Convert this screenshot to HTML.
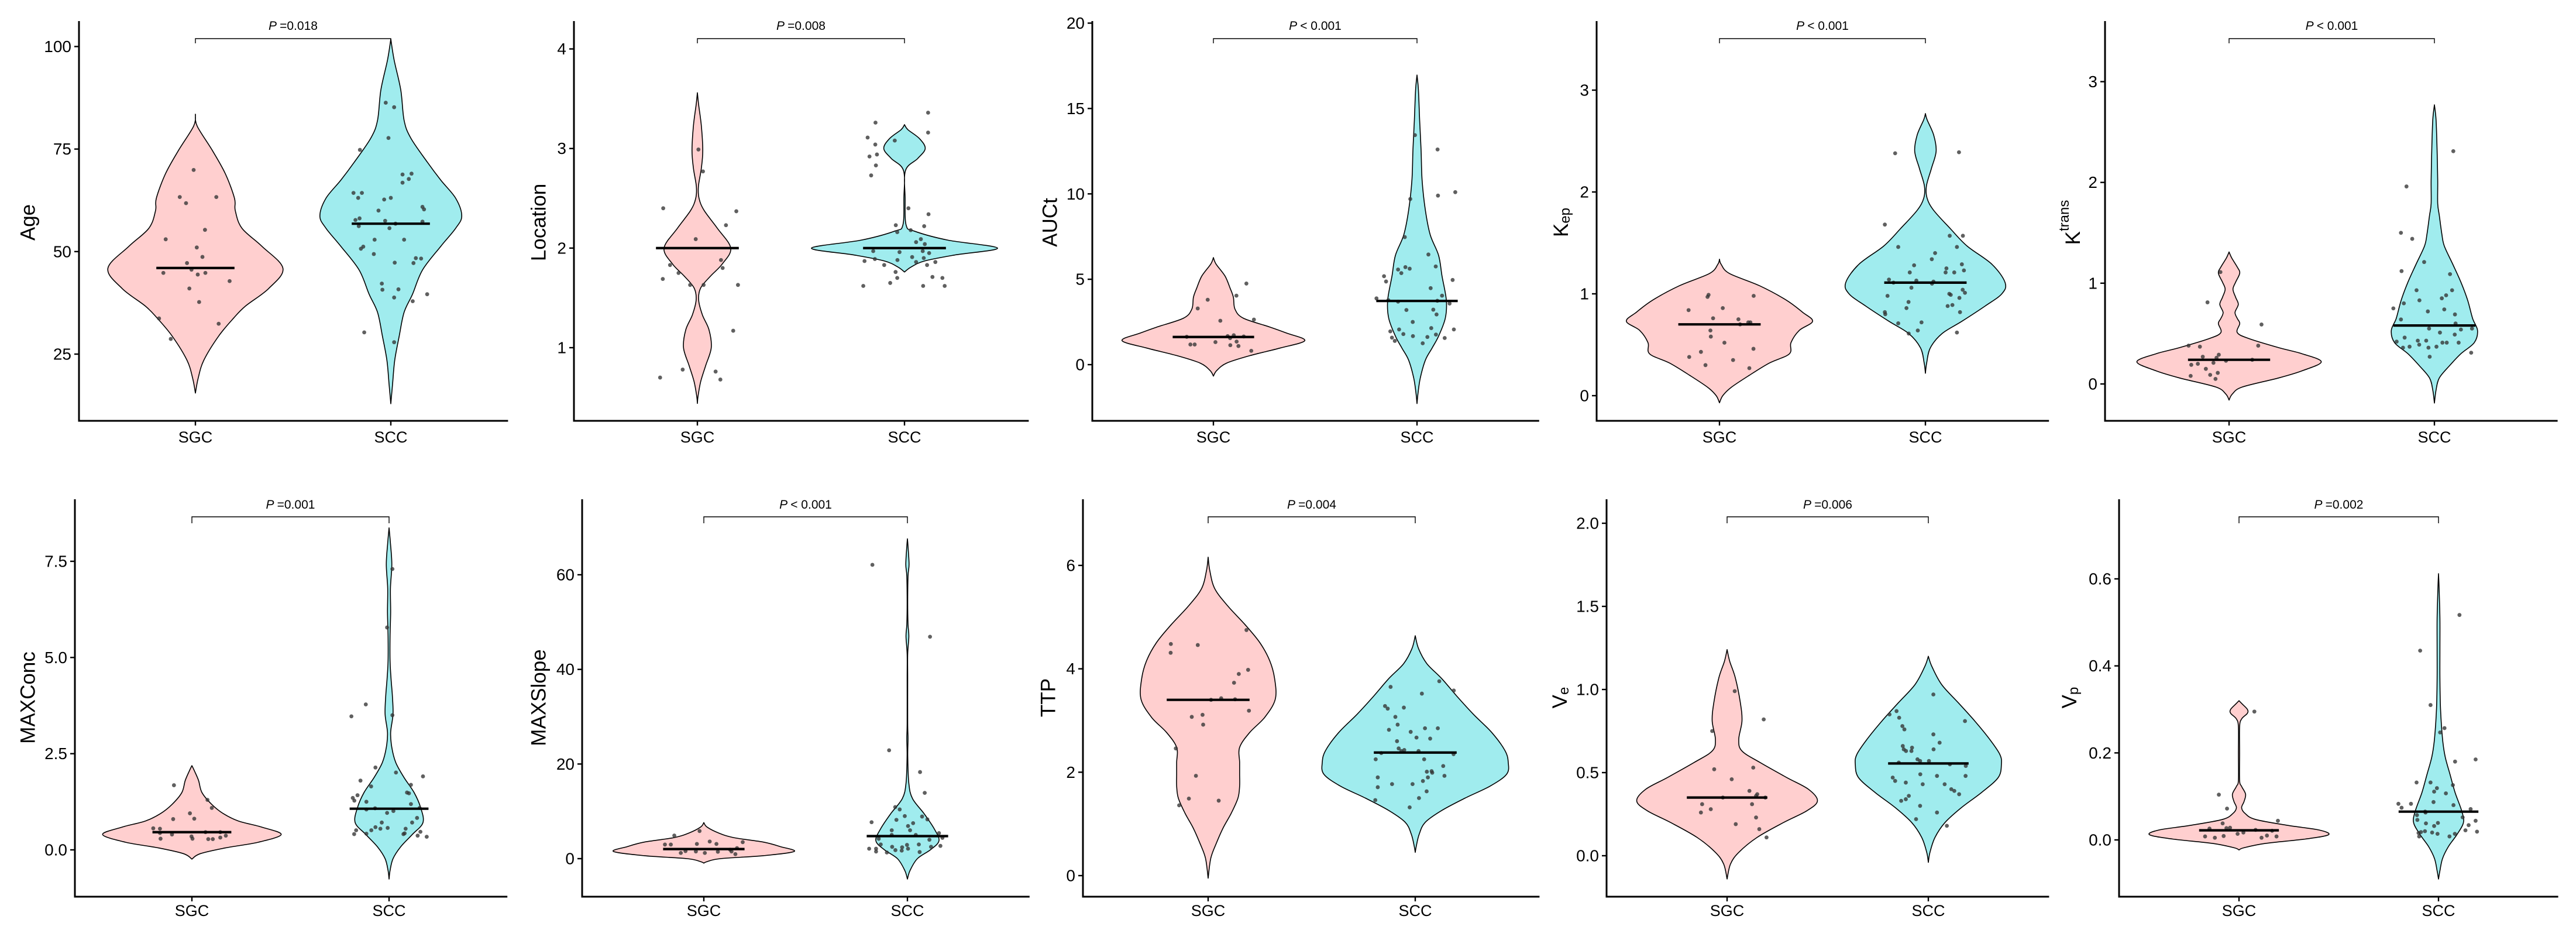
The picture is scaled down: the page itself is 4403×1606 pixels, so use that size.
<!DOCTYPE html>
<html><head><meta charset="utf-8">
<style>
html,body{margin:0;padding:0;background:#fff;}
svg{display:block;font-family:"Liberation Sans",Arial,sans-serif;}
</style></head>
<body>
<svg id="chart" xmlns="http://www.w3.org/2000/svg" width="4403" height="1606" viewBox="0 0 4403 1606"></svg>
<script>
// ---------- shared categories ----------
const categories = ["SGC", "SCC"];

// ---------- Age ----------
const ageTicks = [25, 50, 75, 100];
const ageTickLabels = ["25", "50", "75", "100"];
const agePText = "=0.018";
const ageMedians = [46.0, 56.8];
const ageSgcProfY = [83.5,80.6,74.8,69,63,60,55.7,51.3,45.9,41,36.7,33.8,29.4,23.5,19.1,15.5];
const ageSgcProfW = [0,.009,.085,.153,.2,.204,.238,.34,.448,.375,.256,.196,.119,.043,.014,0];
const ageSccProfY = [101.8,96.7,89.4,82,77.7,71.8,67.4,63,58.7,55.7,51.3,45.5,39.6,35.2,29.4,23.5,17.7,12.9];
const ageSccProfW = [0,.017,.051,.068,.102,.187,.256,.332,.363,.332,.256,.162,.111,.068,.043,.02,.009,0];
const ageSgcVals = [69.9,63.3,61.8,63.3,55.3,53.0,51.0,48.7,47.2,45.6,44.4,44.8,44.8,42.8,41.0,37.7,33.7,32.4,28.7];
const ageSgcJit = [-.009,-.08,-.048,.107,.049,-.152,.007,.036,-.043,-.02,.012,.051,-.164,.175,-.031,.019,-.186,.119,-.126];
const ageSccVals = [86.3,85.2,77.7,74.8,68.8,69.0,67.7,66.8,64.3,64.3,63.1,62.7,63.1,60.0,60.9,60.3,58.1,57.7,56.2,57.5,56.8,57.3,55.7,52.9,52.9,51.2,50.7,49.4,48.4,48.3,47.2,47.3,42.2,40.7,40.8,38.8,39.6,37.9,30.3,27.9];
const ageSccJit = [-.026,.017,-.012,-.158,.06,.106,.092,.06,-.191,-.148,-.167,-.034,0,-.063,.162,.17,-.16,-.181,-.164,-.029,.024,.162,-.007,-.083,.068,-.141,-.153,-.087,.128,.155,.116,.02,-.046,-.043,.039,.017,.186,.112,-.136,.017];

// ---------- Location ----------
const locTicks = [1, 2, 3, 4];
const locTickLabels = ["1", "2", "3", "4"];
const locPText = "=0.008";
const locMedians = [2.0, 2.0];
const locSgcProfY = [3.56,3.44,3.23,2.98,2.80,2.62,2.5,2.38,2.2,2.0,1.84,1.72,1.6,1.48,1.33,1.18,1.0,0.82,0.66,0.51,0.44];
const locSgcProfW = [0,.006,.019,.026,.019,.005,.008,.032,.096,.161,.12,.064,.016,.006,.024,.056,.067,.04,.016,.003,0];
const locSccProfY = [3.24,3.19,3.1,3.0,2.9,2.78,2.5,2.23,2.17,2.08,2.0,1.93,1.87,1.81,1.76];
const locSccProfW = [0,.016,.072,.1,.064,.005,.003,.008,.048,.209,.449,.241,.096,.032,0];
const locSgcVals = [2.99,2.77,2.40,2.37,2.23,2.09,1.88,1.83,1.80,1.75,1.69,1.63,1.63,1.63,1.17,0.78,0.76,0.70,0.68];
const locSgcJit = [.005,.027,-.165,.188,.138,-.008,.114,-.132,.122,-.091,-.167,-.035,.03,.196,.173,-.071,.088,-.18,.111];
const locSccVals = [3.36,3.26,3.16,3.11,3.08,3.04,2.94,2.92,2.83,2.73,2.40,2.34,2.23,2.22,2.18,2.16,2.09,2.06,1.97,1.97,1.96,1.95,2.04,1.87,1.89,1.88,1.91,1.90,1.86,1.86,1.83,1.83,1.76,1.71,1.70,1.70,1.65,1.62,1.62,1.62];
const locSccJit = [.114,-.14,.114,-.178,-.047,-.141,-.133,-.169,-.138,-.161,.019,.116,-.042,.095,.03,-.035,.079,.056,-.151,.088,-.024,.119,.098,-.193,-.143,-.034,.037,.093,.149,.056,-.098,.109,-.043,.135,.183,-.035,-.069,-.199,.09,.194];

// ---------- AUCt ----------
const auctTicks = [0, 5, 10, 15, 20];
const auctTickLabels = ["0", "5", "10", "15", "20"];
const auctPText = "< 0.001";
const auctMedians = [1.62, 3.73];
const auctSgcProfY = [6.27,5.89,5.19,4.48,3.95,3.25,2.72,2.2,1.85,1.41,0.97,0.53,0.09,-0.35,-0.67];
const auctSgcProfW = [0,.013,.057,.082,.098,.106,.147,.278,.359,.449,.327,.18,.065,.016,0];
const auctSccProfY = [16.96,16.08,14.3,12.56,10.8,9.05,7.6,6.4,5.18,3.78,2.72,1.67,0.97,0.26,-0.79,-1.67,-2.28];
const auctSccProfW = [0,.007,.013,.02,.025,.041,.065,.106,.123,.144,.139,.106,.074,.041,.016,.005,0];
const auctSgcVals = [4.75,4.04,3.80,3.29,2.64,2.57,1.72,1.67,1.65,1.63,1.55,1.32,1.35,1.18,1.18,1.14,1.09,0.81];
const auctSgcJit = [.162,.113,-.028,-.077,.199,.034,.1,.07,.149,-.131,.082,.01,.114,-.113,-.092,.083,.123,.186];
const auctSccVals = [13.44,12.6,10.1,9.9,9.7,7.47,6.45,5.75,5.71,5.62,5.57,5.36,5.18,4.96,4.87,4.48,4.04,3.88,3.78,3.74,3.58,3.69,3.2,3.22,2.94,2.5,2.06,2.06,2.14,1.95,1.79,1.76,1.67,1.62,1.56,1.58,1.39,1.25];
const auctSccJit = [-.01,.101,.188,.103,-.033,-.06,.056,.092,-.057,-.036,-.093,-.077,-.162,.175,-.152,.067,.123,-.199,-.141,.1,.16,-.093,-.052,.08,.096,-.021,.181,-.088,.07,-.131,-.067,.093,-.02,.051,.136,-.123,-.109,.028];

// ---------- Kep ----------
const kepTicks = [0, 1, 2, 3];
const kepTickLabels = ["0", "1", "2", "3"];
const kepPText = "< 0.001";
const kepMedians = [0.70, 1.11];
const kepSgcProfY = [1.34,1.29,1.2,1.08,0.94,0.82,0.73,0.64,0.52,0.41,0.32,0.2,0.08,0.0,-0.07];
const kepSgcProfW = [0,.008,.048,.194,.323,.403,.452,.387,.347,.339,.242,.145,.056,.016,0];
const kepSccProfY = [2.77,2.71,2.56,2.4,2.23,2.06,1.94,1.82,1.64,1.47,1.29,1.11,1.0,0.88,0.73,0.61,0.47,0.32,0.22];
const kepSccProfW = [0,.008,.04,.052,.029,.005,.008,.04,.121,.202,.323,.387,.371,.29,.177,.081,.024,.006,0];
const kepSgcVals = [0.99,0.97,0.98,0.84,0.86,0.76,0.75,0.72,0.72,0.70,0.64,0.58,0.52,0.46,0.43,0.38,0.35,0.30,0.27];
const kepSgcJit = [-.053,-.058,.166,-.15,.016,-.031,.092,.14,.15,.1,-.044,-.042,.024,.165,-.09,-.147,.066,-.068,.145];
const kepSccVals = [2.38,2.39,1.68,1.57,1.57,1.46,1.46,1.40,1.34,1.28,1.29,1.25,1.21,1.21,1.21,1.23,1.14,1.11,1.13,1.12,1.10,1.06,1.04,1.01,1.0,0.99,0.98,0.96,0.92,0.89,0.88,0.86,0.82,0.82,0.80,0.72,0.71,0.64,0.61,0.62];
const kepSccJit = [-.147,.163,-.197,.118,.182,-.132,.153,.047,.031,-.055,.177,.102,-.076,.098,.14,.187,-.177,-.155,-.044,.039,.032,-.068,.181,.192,.116,.123,-.184,.165,-.082,.131,.108,-.092,-.197,.168,-.195,-.019,-.132,-.037,-.081,.153];

// ---------- Ktrans ----------
const ktrTicks = [0, 1, 2, 3];
const ktrTickLabels = ["0", "1", "2", "3"];
const ktrPText = "< 0.001";
const ktrMedians = [0.24, 0.58];
const ktrSgcProfY = [1.31,1.25,1.16,1.1,1.01,0.94,0.86,0.79,0.71,0.65,0.6,0.51,0.45,0.36,0.3,0.22,0.13,0.06,-0.03,-0.1,-0.16];
const ktrSgcProfW = [0,.013,.04,.052,.032,.019,.032,.045,.029,.04,.052,.04,.097,.242,.355,.449,.355,.242,.065,.016,0];
const ktrSccProfY = [2.77,2.62,2.32,2.02,1.79,1.67,1.49,1.37,1.19,1.01,0.83,0.65,0.53,0.41,0.3,0.18,0.06,-0.06,-0.19];
const ktrSccProfW = [0,.008,.013,.016,.016,.024,.036,.048,.089,.129,.162,.186,.21,.194,.129,.073,.024,.008,0];
const ktrSgcVals = [1.11,0.81,0.59,0.38,0.38,0.37,0.27,0.29,0.26,0.23,0.24,0.21,0.19,0.20,0.15,0.11,0.08,0.09,0.05];
const ktrSgcJit = [-.042,-.105,.158,.142,-.197,-.142,-.128,-.05,-.061,-.015,.113,-.076,-.184,-.152,-.113,-.055,-.187,-.092,-.066];
const ktrSccVals = [2.31,1.96,1.50,1.44,1.21,1.12,1.09,0.93,0.93,0.83,0.88,0.85,0.80,0.75,0.74,0.72,0.69,0.64,0.60,0.55,0.55,0.54,0.51,0.49,0.46,0.42,0.43,0.43,0.41,0.41,0.41,0.39,0.36,0.37,0.36,0.37,0.31,0.27];
const ktrSccJit = [.092,-.136,-.163,-.108,-.05,-.16,.076,-.087,.086,-.073,.057,.036,-.149,-.2,.048,-.032,.1,-.163,.103,-.026,.183,.129,.027,.099,-.145,-.184,-.081,-.04,.06,.039,.118,-.074,-.153,-.121,-.029,.01,.179,-.023];

// ---------- MAXConc ----------
const mcTicks = [0, 2.5, 5, 7.5];
const mcTickLabels = ["0.0", "2.5", "5.0", "7.5"];
const mcPText = "=0.001";
const mcMedians = [0.46, 1.07];
const mcSgcProfY = [2.19,2.04,1.8,1.49,1.18,0.94,0.75,0.59,0.40,0.2,0.05,-0.1,-0.24];
const mcSgcProfW = [0,.014,.034,.051,.101,.16,.236,.355,.453,.338,.169,.042,0];
const mcSccProfY = [8.37,7.97,7.42,6.8,6.17,5.55,4.92,4.45,3.99,3.52,3.05,2.66,2.27,1.88,1.49,1.1,0.71,0.40,0.08,-0.23,-0.54,-0.76];
const mcSccProfW = [0,.007,.014,.007,.008,.005,.005,.01,.017,.02,.008,.014,.034,.076,.127,.16,.172,.118,.059,.02,.005,0];
const mcSgcVals = [1.68,1.30,1.09,0.95,0.80,0.81,0.56,0.55,0.44,0.46,0.46,0.40,0.35,0.29,0.37,0.32,0.29,0.28,0.28];
const mcSgcJit = [-.091,.079,.101,-.01,-.095,.012,-.196,-.162,-.162,.069,.144,-.101,-.002,.003,.172,.144,-.159,.083,.106];
const mcSccVals = [7.30,5.78,3.78,3.47,3.50,2.14,2.01,1.91,1.80,1.69,1.65,1.49,1.47,1.35,1.42,1.28,1.25,1.19,1.09,1.08,1.05,1.01,0.96,0.71,0.71,0.83,0.59,0.55,0.57,0.55,0.51,0.51,0.42,0.41,0.43,0.47,0.37,0.34,0.41];
const mcSccJit = [.017,-.01,-.118,-.191,.017,-.069,.035,.172,-.145,.111,-.091,.091,.101,-.184,-.16,-.176,-.115,.111,.155,-.071,-.115,.022,-.01,-.037,.117,.142,-.069,-.044,-.007,.084,-.09,-.167,-.115,-.177,.079,.159,.145,.191,.073];

// ---------- MAXSlope ----------
const msTicks = [0, 20, 40, 60];
const msTickLabels = ["0", "20", "40", "60"];
const msPText = "< 0.001";
const msMedians = [2.03, 4.76];
const msSgcProfY = [7.62,6.67,5.4,4.44,3.49,2.54,1.52,0.63,0,-0.63,-0.95];
const msSgcProfW = [0,.016,.074,.147,.294,.376,.444,.294,.082,.016,0];
const msSccProfY = [67.6,66.0,62.2,59.7,54,49.5,47,43.2,38.1,28.6,25.4,21.6,15.9,12.7,9.5,6.35,3.8,1.9,0,-2.5,-4.32];
const msSccProfW = [0,.003,.008,.003,.0013,.003,.007,.0013,.0013,.0013,.003,.0016,.007,.025,.082,.131,.155,.114,.049,.013,0];
const msSgcVals = [4.89,5.84,3.62,3.11,3.11,3.49,2.98,2.98,2.22,1.9,1.59,1.52,1.46,1.52,1.21,1.21,0.95];
const msSgcJit = [-.145,-.021,.029,.062,-.034,.191,-.191,-.162,.163,.129,-.09,-.039,.069,.136,.005,-.113,.155];
const msSccVals = [62.1,46.9,22.9,18.3,13.9,10.9,10.4,7.7,9.0,8.9,8.3,8.2,7.5,6.9,6.0,6.0,5.4,5.0,5.0,4.4,4.2,4.0,3.0,3.0,2.9,2.5,2.5,2.7,2.4,2.1,2.1,2.1,1.8,1.7,1.4,1.5,1.3];
const msSccJit = [-.172,.111,-.09,.062,.085,-.06,-.038,-.176,-.013,.072,.098,-.054,.028,.003,.013,-.077,.155,-.077,.041,.172,-.141,.108,-.131,.056,-.002,-.075,.116,.162,-.026,-.188,-.154,.003,-.059,-.028,.06,-.154,-.101];

// ---------- TTP ----------
const ttpTicks = [0, 2, 4, 6];
const ttpTickLabels = ["0", "2", "4", "6"];
const ttpPText = "=0.004";
const ttpMedians = [3.40, 2.38];
const ttpSgcProfY = [6.16,5.9,5.55,5.21,4.86,4.51,4.16,3.81,3.41,3.06,2.77,2.48,2.19,1.96,1.73,1.5,1.21,0.92,0.63,0.34,-0.05];
const ttpSgcProfW = [0,.008,.032,.096,.177,.249,.297,.321,.324,.273,.201,.152,.152,.152,.152,.144,.112,.072,.04,.013,0];
const ttpSccProfY = [4.64,4.39,4.1,3.81,3.47,3.12,2.77,2.42,2.19,1.96,1.73,1.5,1.26,1.03,0.8,0.57,0.45];
const ttpSccProfW = [0,.016,.056,.128,.201,.281,.369,.433,.449,.441,.361,.241,.128,.048,.019,.005,0];
const ttpSgcVals = [4.75,4.48,4.46,4.31,3.98,3.90,3.73,3.43,3.40,3.41,3.19,3.07,3.11,2.92,2.46,1.93,1.49,1.45,1.36];
const ttpSgcJit = [.185,-.18,-.05,-.181,.193,.148,.125,.063,.014,.13,.197,-.079,-.027,-.024,-.156,-.059,-.093,.051,-.14];
const ttpSccVals = [3.76,3.65,3.58,3.52,3.28,3.23,3.25,3.07,2.92,2.85,2.85,2.82,2.78,2.67,2.65,2.60,2.46,2.43,2.41,2.41,2.37,2.35,2.25,2.25,2.12,2.01,2.02,1.99,1.90,1.90,1.93,1.83,1.77,1.77,1.71,1.63,1.50,1.46,1.32];
const ttpSccJit = [.116,-.119,.186,.032,-.146,-.133,-.055,-.096,-.085,.047,.109,-.127,-.022,.006,.072,-.088,-.08,-.053,-.067,.016,-.164,.185,-.191,.043,.135,.056,.079,.082,-.181,.061,.141,.037,-.112,-.013,-.181,.055,.018,-.193,-.027];

// ---------- Ve ----------
const veTicks = [0, 0.5, 1, 1.5, 2];
const veTickLabels = ["0.0", "0.5", "1.0", "1.5", "2.0"];
const vePText = "=0.006";
const veMedians = [0.35, 0.555];
const veSgcProfY = [1.24,1.17,1.07,0.92,0.81,0.70,0.63,0.56,0.47,0.40,0.33,0.27,0.2,0.11,0.02,-0.05,-0.14];
const veSgcProfW = [0,.013,.041,.066,.074,.058,.074,.165,.297,.404,.449,.396,.281,.149,.058,.017,0];
const veSccProfY = [1.20,1.14,1.03,0.92,0.81,0.70,0.61,0.55,0.47,0.38,0.29,0.2,0.11,0.02,-0.04];
const veSccProfW = [0,.017,.066,.149,.231,.305,.355,.363,.347,.264,.165,.083,.033,.008,0];
const veSgcVals = [0.99,0.82,0.75,0.53,0.52,0.46,0.39,0.37,0.36,0.35,0.35,0.31,0.31,0.28,0.26,0.23,0.19,0.16,0.11];
const veSgcJit = [.038,.182,-.074,.13,-.064,.023,.111,.15,.144,-.021,.19,-.124,.124,-.081,-.13,.144,.043,.16,.196];
const veSccVals = [0.97,0.85,0.87,0.83,0.81,0.78,0.76,0.73,0.68,0.66,0.64,0.64,0.63,0.63,0.65,0.56,0.58,0.57,0.57,0.55,0.54,0.49,0.48,0.48,0.47,0.45,0.44,0.43,0.43,0.40,0.39,0.37,0.36,0.34,0.33,0.30,0.26,0.22,0.18];
const veSccJit = [.025,-.193,-.158,-.145,.182,-.129,-.119,.025,.056,-.127,.026,-.122,-.111,-.084,-.081,-.147,-.054,-.041,.003,.107,.186,-.04,.043,.185,-.177,-.165,-.112,.081,-.028,.114,.129,.153,-.097,-.112,-.135,-.041,.043,-.061,.092];

// ---------- Vp ----------
const vpTicks = [0, 0.2, 0.4, 0.6];
const vpTickLabels = ["0.0", "0.2", "0.4", "0.6"];
const vpPText = "=0.002";
const vpMedians = [0.022, 0.065];
const vpSgcProfY = [0.32,0.312,0.30,0.291,0.278,0.26,0.2,0.137,0.123,0.105,0.088,0.074,0.061,0.047,0.033,0.023,0.012,0.002,-0.008,-0.018,-0.023];
const vpSgcProfW = [0,.017,.042,.042,.013,.003,.003,.003,.013,.033,.025,.013,.03,.083,.25,.399,.449,.333,.133,.025,0];
const vpSccProfY = [0.612,0.578,0.509,0.44,0.371,0.302,0.233,0.192,0.15,0.109,0.067,0.04,0.012,-0.015,-0.043,-0.071,-0.09];
const vpSccProfW = [0,.003,.007,.007,.007,.01,.02,.033,.058,.083,.116,.125,.092,.05,.02,.007,0];
const vpSgcVals = [0.295,0.104,0.072,0.044,0.038,0.027,0.028,0.026,0.023,0.021,0.017,0.014,0.010,0.008,0.009,0.008,0.005,0.005];
const vpSgcJit = [.077,-.101,-.06,.195,-.082,-.063,-.045,-.148,.083,.166,.022,-.007,.14,-.17,-.077,.188,.113,-.121];
const vpSccVals = [.517,.435,.310,.257,.247,.185,.180,.132,.132,.126,.119,.111,.107,.083,.083,.087,.080,.074,.071,.065,.063,.052,.057,.046,.044,.034,.038,.039,.032,.022,.019,.020,.018,.017,.014,.014,.016,.008,.008];
const vpSccJit = [.105,-.092,-.04,.03,.008,.186,.083,-.11,-.04,.072,-.008,-.022,.037,-.201,-.138,-.025,.075,-.185,.161,-.067,-.065,.121,-.108,-.106,.186,.151,-.063,-.003,-.022,.135,.193,-.068,-.088,-.032,-.005,.082,-.1,.055,-.097];

// ---------- layout (not data) ----------
const ROWS = [
  {top:36, axisY:719, brY:66, brTick:74, pY:51, labY:746, titleY:380},
  {top:853, axisY:1532, brY:883, brTick:894, pY:869, labY:1555, titleY:1192}
];
const panels = [
  {key:"age", row:0, ax:135, sgc:334, scc:668, v0:100, y0:79.5, v1:25, y1:605, tx:48, title:["Age"],
   ticks:ageTicks, labels:ageTickLabels, p:agePText, med:ageMedians, pa:[ageSgcProfY,ageSgcProfW], pb:[ageSccProfY,ageSccProfW], va:ageSgcVals, ja:ageSgcJit, vb:ageSccVals, jb:ageSccJit},
  {key:"location", row:0, ax:981, sgc:1192, scc:1546, v0:4, y0:83.6, v1:1, y1:594, tx:921, title:["Location"],
   ticks:locTicks, labels:locTickLabels, p:locPText, med:locMedians, pa:[locSgcProfY,locSgcProfW], pb:[locSccProfY,locSccProfW], va:locSgcVals, ja:locSgcJit, vb:locSccVals, jb:locSccJit},
  {key:"auct", row:0, ax:1867, sgc:2074, scc:2422, v0:20, y0:39.5, v1:0, y1:623, tx:1795, title:["AUCt"],
   ticks:auctTicks, labels:auctTickLabels, p:auctPText, med:auctMedians, pa:[auctSgcProfY,auctSgcProfW], pb:[auctSccProfY,auctSccProfW], va:auctSgcVals, ja:auctSgcJit, vb:auctSccVals, jb:auctSccJit},
  {key:"kep", row:0, ax:2729, sgc:2939, scc:3291, v0:3, y0:154, v1:0, y1:676, tx:2668, title:["K","ep","sub"],
   ticks:kepTicks, labels:kepTickLabels, p:kepPText, med:kepMedians, pa:[kepSgcProfY,kepSgcProfW], pb:[kepSccProfY,kepSccProfW], va:kepSgcVals, ja:kepSgcJit, vb:kepSccVals, jb:kepSccJit},
  {key:"ktrans", row:0, ax:3598, sgc:3810, scc:4161, v0:3, y0:139.5, v1:0, y1:656, tx:3543, title:["K","trans","sup"],
   ticks:ktrTicks, labels:ktrTickLabels, p:ktrPText, med:ktrMedians, pa:[ktrSgcProfY,ktrSgcProfW], pb:[ktrSccProfY,ktrSccProfW], va:ktrSgcVals, ja:ktrSgcJit, vb:ktrSccVals, jb:ktrSccJit},
  {key:"maxconc", row:1, ax:128, sgc:328, scc:665, v0:7.5, y0:959, v1:0, y1:1452, tx:48, title:["MAXConc"],
   ticks:mcTicks, labels:mcTickLabels, p:mcPText, med:mcMedians, pa:[mcSgcProfY,mcSgcProfW], pb:[mcSccProfY,mcSccProfW], va:mcSgcVals, ja:mcSgcJit, vb:mcSccVals, jb:mcSccJit},
  {key:"maxslope", row:1, ax:995, sgc:1203, scc:1551, v0:60, y0:982, v1:0, y1:1467, tx:921, title:["MAXSlope"],
   ticks:msTicks, labels:msTickLabels, p:msPText, med:msMedians, pa:[msSgcProfY,msSgcProfW], pb:[msSccProfY,msSccProfW], va:msSgcVals, ja:msSgcJit, vb:msSccVals, jb:msSccJit},
  {key:"ttp", row:1, ax:1851, sgc:2065, scc:2419, v0:6, y0:966, v1:0, y1:1496, tx:1792, title:["TTP"],
   ticks:ttpTicks, labels:ttpTickLabels, p:ttpPText, med:ttpMedians, pa:[ttpSgcProfY,ttpSgcProfW], pb:[ttpSccProfY,ttpSccProfW], va:ttpSgcVals, ja:ttpSgcJit, vb:ttpSccVals, jb:ttpSccJit},
  {key:"ve", row:1, ax:2746, sgc:2952, scc:3296, v0:2, y0:894, v1:0, y1:1462, tx:2666, title:["V","e","sub"],
   ticks:veTicks, labels:veTickLabels, p:vePText, med:veMedians, pa:[veSgcProfY,veSgcProfW], pb:[veSccProfY,veSccProfW], va:veSgcVals, ja:veSgcJit, vb:veSccVals, jb:veSccJit},
  {key:"vp", row:1, ax:3622, sgc:3827, scc:4168, v0:0.6, y0:989, v1:0, y1:1435, tx:3537, title:["V","p","sub"],
   ticks:vpTicks, labels:vpTickLabels, p:vpPText, med:vpMedians, pa:[vpSgcProfY,vpSgcProfW], pb:[vpSccProfY,vpSccProfW], va:vpSgcVals, ja:vpSgcJit, vb:vpSccVals, jb:vpSccJit}
];
const FILLS = ["#FFCFCF", "#A0ECEE"];
const NS = "http://www.w3.org/2000/svg";
const svg = document.getElementById("chart");

function mk(tag, attrs, parent) {
  const e = document.createElementNS(NS, tag);
  for (const k in attrs) e.setAttribute(k, attrs[k]);
  parent.appendChild(e);
  return e;
}
function smoothPath(pts) {
  let d = "M" + pts[0][0].toFixed(2) + "," + pts[0][1].toFixed(2);
  for (let i = 0; i < pts.length - 1; i++) {
    const p0 = pts[Math.max(0, i - 1)], p1 = pts[i], p2 = pts[i + 1], p3 = pts[Math.min(pts.length - 1, i + 2)];
    const c1x = p1[0] + (p2[0] - p0[0]) / 6, c1y = p1[1] + (p2[1] - p0[1]) / 6;
    const c2x = p2[0] - (p3[0] - p1[0]) / 6, c2y = p2[1] - (p3[1] - p1[1]) / 6;
    d += " C" + c1x.toFixed(2) + "," + c1y.toFixed(2) + " " + c2x.toFixed(2) + "," + c2y.toFixed(2) + " " + p2[0].toFixed(2) + "," + p2[1].toFixed(2);
  }
  return d;
}

panels.forEach(function (p) {
  const R = ROWS[p.row];
  const sp = p.scc - p.sgc;
  const yS = function (v) { return p.y0 + (v - p.v0) * (p.y1 - p.y0) / (p.v1 - p.v0); };
  const xS = function (catIdx, off) { return (catIdx === 0 ? p.sgc : p.scc) + off * sp; };
  const right = p.sgc + 1.6 * sp;

  const g = mk("g", {}, svg);
  
  

  // violins
  [p.pa, p.pb].forEach(function (prof, ci) {
    const ys = prof[0], ws = prof[1];
    const rightPts = ys.map(function (v, i) { return [xS(ci, ws[i]), yS(v)]; });
    const leftPts = ys.map(function (v, i) { return [xS(ci, -ws[i]), yS(v)]; }).reverse();
    const d = smoothPath(rightPts) + " L" + smoothPath(leftPts).slice(1) + " Z";
    const path = mk("path", {d: d, fill: FILLS[ci], stroke: "#000", "stroke-width": 1.6, "stroke-linejoin": "round"}, g);
    
    
  });

  // points
  [[p.va, p.ja], [p.vb, p.jb]].forEach(function (set, ci) {
    set[0].forEach(function (v, i) {
      const c = mk("circle", {cx: xS(ci, set[1][i] || 0), cy: yS(v), r: 3.4, fill: "#333", "fill-opacity": 0.78}, g);
      
      
    });
  });

  // medians
  p.med.forEach(function (m, ci) {
    const l = mk("line", {x1: xS(ci, -0.2), x2: xS(ci, 0.2), y1: yS(m), y2: yS(m), stroke: "#000", "stroke-width": 4.2}, g);
    
    
  });

  // axes
  const ya = mk("line", {x1: p.ax, x2: p.ax, y1: R.top, y2: R.axisY + 1.5, stroke: "#000", "stroke-width": 3}, g);
  
  
  const xa = mk("line", {x1: p.ax - 1.5, x2: right, y1: R.axisY, y2: R.axisY, stroke: "#000", "stroke-width": 3}, g);
  
  

  p.ticks.forEach(function (t, i) {
    const y = yS(t);
    const tk = mk("line", {x1: p.ax - 8, x2: p.ax, y1: y, y2: y, stroke: "#000", "stroke-width": 2.4}, g);
    
    
    const tl = mk("text", {x: p.ax - 13, y: y, "text-anchor": "end", "dominant-baseline": "central", "font-size": 28, fill: "#000"}, g);
    tl.textContent = p.labels[i];
    
    
  });
  categories.forEach(function (c, ci) {
    const x = xS(ci, 0);
    const tk = mk("line", {x1: x, x2: x, y1: R.axisY, y2: R.axisY + 8, stroke: "#000", "stroke-width": 2.4}, g);
    
    
    const tl = mk("text", {x: x, y: R.labY + 10, "text-anchor": "middle", "font-size": 27, fill: "#000"}, g);
    tl.textContent = c;
    
    
  });

  // y title
  const tt = mk("text", {x: p.tx, y: R.titleY, "text-anchor": "middle", "dominant-baseline": "central", "font-size": 35, fill: "#000",
    transform: "rotate(-90 " + p.tx + " " + R.titleY + ")"}, g);
  
  
  if (p.title.length === 1) {
    tt.textContent = p.title[0];
  } else {
    const a = mk("tspan", {}, tt); a.textContent = p.title[0];
    const b = mk("tspan", {"font-size": 24, "baseline-shift": p.title[2] === "sub" ? "-30%" : "60%"}, tt);
    b.textContent = p.title[1];
  }

  // significance bracket
  const br = mk("path", {d: "M" + p.sgc + "," + R.brTick + " V" + R.brY + " H" + p.scc + " V" + R.brTick, fill: "none", stroke: "#000", "stroke-width": 1.4}, g);
  
  
  const pt = mk("text", {x: (p.sgc + p.scc) / 2, y: R.pY, "text-anchor": "middle", "font-size": 21, fill: "#000"}, g);
  
  
  const pi = mk("tspan", {"font-style": "italic"}, pt); pi.textContent = "P ";
  const pv = mk("tspan", {}, pt); pv.textContent = p.p;
});
</script>
</body></html>
